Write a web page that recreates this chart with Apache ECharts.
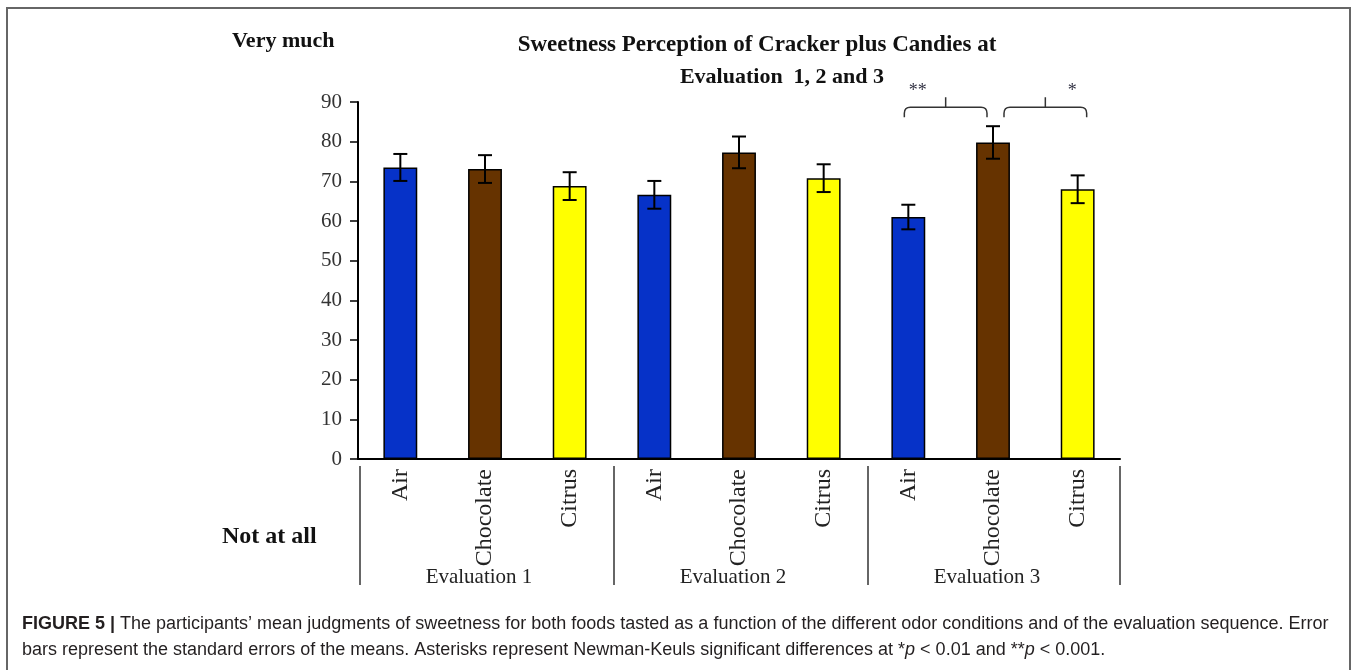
<!DOCTYPE html>
<html>
<head>
<meta charset="utf-8">
<script src="https://cdn.jsdelivr.net/npm/echarts@6/dist/echarts.min.js"></script>
<style>
  html, body { margin: 0; padding: 0; background: #fff; }
  #chart { width: 1357px; height: 670px; }
</style>
</head>
<body>
<div id="chart"></div>
<script>
// data
const odors = ['Air', 'Chocolate', 'Citrus', 'Air', 'Chocolate', 'Citrus', 'Air', 'Chocolate', 'Citrus'];
const groups = ['Evaluation 1', 'Evaluation 2', 'Evaluation 3'];
const means = [73.5, 73.1, 68.8, 66.6, 77.3, 70.8, 61.0, 79.8, 68.0];
const ses = [3.4, 3.5, 3.5, 3.5, 4.0, 3.5, 3.1, 4.1, 3.5];
const yTicks = [0, 90, 10]; // min, max, step
// significance brackets: [from index, to index, level, label]
const sigPairs = [
  [6, 7, 88.7, '**'],
  [7, 8, 88.7, '*']
];

const odorColors = { Air: '#0632c8', Chocolate: '#663300', Citrus: '#ffff00' };
const serif = '"Liberation Serif", "Times New Roman", serif';
const sans = '"Liberation Sans", Arial, sans-serif';

const chart = echarts.init(document.getElementById('chart'));

const barData = means.map((v, i) => ({
  value: v,
  itemStyle: { color: odorColors[odors[i]] }
}));
const errData = means.map((m, i) => [i, m - ses[i], m + ses[i]]);
const groupData = groups.map((g, i) => [i * 3 + 1, 0, g]);

const option = {
  animation: false,
  grid: { left: 358, right: 237, top: 102, bottom: 211 },
  xAxis: {
    type: 'category',
    data: odors,
    axisLine: { lineStyle: { color: '#000', width: 2 } },
    axisTick: { show: false },
    axisLabel: {
      rotate: 90,
      margin: 10,
      interval: 0,
      fontFamily: serif,
      fontSize: 24,
      color: '#222'
    }
  },
  yAxis: {
    type: 'value',
    min: yTicks[0],
    max: yTicks[1],
    interval: yTicks[2],
    splitLine: { show: false },
    axisLine: { show: true, lineStyle: { color: '#000', width: 2 } },
    axisTick: { show: true, length: 8, lineStyle: { color: '#000', width: 1.5 } },
    axisLabel: {
      margin: 16,
      fontFamily: serif,
      fontSize: 21,
      color: '#333'
    }
  },
  graphic: [
    {
      type: 'rect',
      shape: { x: 7, y: 8, width: 1343, height: 720 },
      style: { fill: null, stroke: '#666', lineWidth: 2 },
      silent: true
    },
    {
      type: 'text', left: 232, top: 30,
      style: { text: 'Very much', font: 'bold 22px ' + serif, fill: '#111' }
    },
    {
      type: 'text', left: 222, top: 525,
      style: { text: 'Not at all', font: 'bold 24px ' + serif, fill: '#111' }
    },
    {
      type: 'text', x: 757, y: 45,
      style: { text: 'Sweetness Perception of Cracker plus Candies at', font: 'bold 23px ' + serif, fill: '#111', align: 'center', verticalAlign: 'middle' }
    },
    {
      type: 'text', x: 782, y: 77,
      style: { text: 'Evaluation  1, 2 and 3', font: 'bold 22px ' + serif, fill: '#111', align: 'center', verticalAlign: 'middle' }
    },
    {
      type: 'text', left: 22, top: 611,
      style: {
        text: '{b|FIGURE 5 |} The participants\u2019 mean judgments of sweetness for both foods tasted as a function of the different odor conditions and of the evaluation sequence. Error\n' +
          'bars represent the standard errors of the means. Asterisks represent Newman-Keuls significant differences at *{i|p} < 0.01 and **{i|p} < 0.001.',
        font: '18px ' + sans,
        fill: '#231f20',
        lineHeight: 26,
        rich: {
          b: { font: 'bold 18px ' + sans, fill: '#231f20' },
          i: { font: 'italic 18px ' + sans, fill: '#231f20' }
        }
      }
    }
  ],
  series: [
    {
      type: 'bar',
      data: barData,
      barWidth: '40%',
      itemStyle: { borderColor: '#000', borderWidth: 1.5 }
    },
    {
      type: 'custom',
      data: errData,
      encode: { x: 0, y: [1, 2] },
      renderItem: function (params, api) {
        const i = api.value(0);
        const lo = api.coord([i, api.value(1)]);
        const hi = api.coord([i, api.value(2)]);
        const cap = 7;
        const st = { stroke: '#000', lineWidth: 2 };
        return {
          type: 'group',
          children: [
            { type: 'line', shape: { x1: lo[0], y1: lo[1], x2: hi[0], y2: hi[1] }, style: st },
            { type: 'line', shape: { x1: hi[0] - cap, y1: hi[1], x2: hi[0] + cap, y2: hi[1] }, style: st },
            { type: 'line', shape: { x1: lo[0] - cap, y1: lo[1], x2: lo[0] + cap, y2: lo[1] }, style: st }
          ]
        };
      },
      z: 5
    },
    {
      type: 'custom',
      data: sigPairs,
      encode: { x: [0, 1], y: 2 },
      clip: false,
      renderItem: function (params, api) {
        const a = api.coord([api.value(0), api.value(2)]);
        const b = api.coord([api.value(1), api.value(2)]);
        const band = api.size([1, 0])[0];
        const shift = params.dataIndex === 0 ? -5 : 10;
        const mid = (a[0] + b[0]) / 2 + shift;
        const l = mid - band / 2 + 1, r = mid + band / 2 - 1, y = a[1], d = 10, rr = 6;
        const path = 'M' + l + ',' + (y + d) + ' L' + l + ',' + (y + rr) + ' Q' + l + ',' + y + ' ' + (l + rr) + ',' + y +
          ' L' + (r - rr) + ',' + y + ' Q' + r + ',' + y + ' ' + r + ',' + (y + rr) + ' L' + r + ',' + (y + d) +
          ' M' + mid + ',' + y + ' L' + mid + ',' + (y - d);
        const label = api.value(3);
        const lx = params.dataIndex === 0 ? mid - 28 : mid + 27;
        return {
          type: 'group',
          children: [
            { type: 'path', shape: { pathData: path }, style: { stroke: '#333', lineWidth: 1.5, fill: null } },
            { type: 'text', x: lx, y: y - 16, style: { text: label, font: '18px ' + serif, fill: '#334', align: 'center', verticalAlign: 'middle' } }
          ]
        };
      }
    },
    {
      type: 'custom',
      data: groupData,
      encode: { x: 0, y: 1 },
      clip: false,
      renderItem: function (params, api) {
        const c = api.coord([api.value(0), 0]);
        const band = api.size([1, 0])[0];
        const left = c[0] - band * 1.5;
        const right = c[0] + band * 1.5;
        const st = { stroke: '#333', lineWidth: 1.5 };
        const kids = [
          { type: 'line', shape: { x1: left + 2, y1: c[1] + 7, x2: left + 2, y2: c[1] + 126 }, style: st },
          { type: 'text', x: c[0] - 6, y: c[1] + 118, style: { text: api.value(2), font: '21px ' + serif, fill: '#222', align: 'center', verticalAlign: 'middle' } }
        ];
        if (params.dataIndex === groups.length - 1) {
          kids.push({ type: 'line', shape: { x1: right, y1: c[1] + 7, x2: right, y2: c[1] + 126 }, style: st });
        }
        return { type: 'group', children: kids };
      }
    }
  ]
};

chart.setOption(option);
</script>
</body>
</html>
